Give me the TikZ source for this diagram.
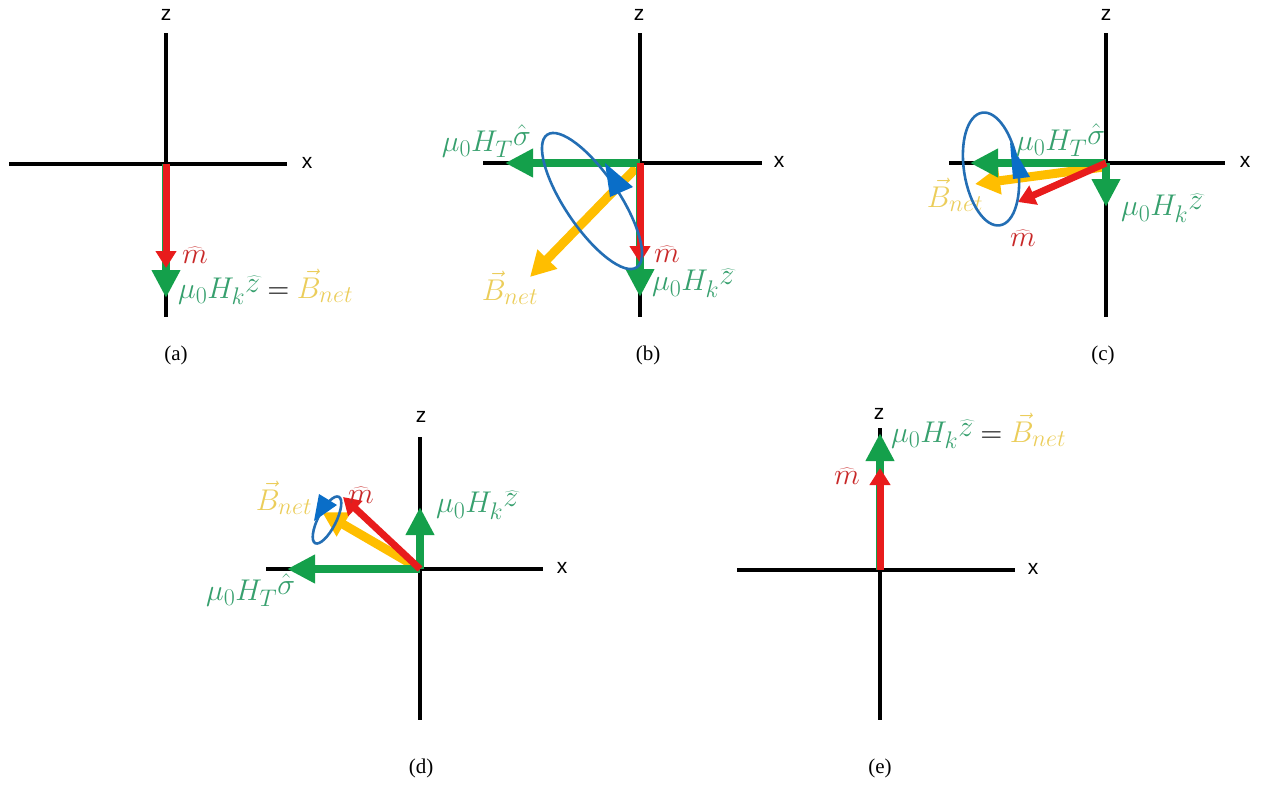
\RequirePackage{fix-cm}
\documentclass[tikz,border=0pt]{standalone}
\usepackage{fontspec}
\setmainfont{Liberation Serif}
\newfontfamily\axisfont{Liberation Sans}
\usetikzlibrary{arrows.meta}
\DeclareMathSizes{30}{30}{24}{18}
\definecolor{ared}{RGB}{232,28,28}
\definecolor{agreen}{RGB}{20,160,75}
\definecolor{ayellow}{RGB}{255,190,0}
\definecolor{ablue}{RGB}{35,110,180}
\definecolor{ablue2}{RGB}{10,110,200}
\definecolor{tgreen}{RGB}{55,160,110}
\definecolor{tred}{RGB}{200,40,40}
\definecolor{tyellow}{RGB}{235,205,90}
\tikzset{
  axisline/.style={line width=3.5pt, black},
  axislbl/.style={font=\axisfont\fontsize{21}{25}\selectfont, inner sep=0pt},
  caption/.style={font=\fontsize{21}{25}\selectfont, inner sep=0pt},
  lbl/.style={font=\fontsize{30}{34}\selectfont, inner sep=0pt},
  redarr/.style={line width=7pt, ared, -{Triangle[length=17pt,width=20pt]}},
  greenarr/.style={line width=8pt, agreen, -{Triangle[length=28pt,width=27pt]}},
  yelarr/.style={line width=9pt, ayellow, -{Triangle[length=25pt,width=26pt]}},
  ell/.style={line width=2.6pt, ablue},
  bhead/.style={fill=ablue2, draw=none},
}
\newcommand{\MuHk}{\ensuremath{\mu_0H_k\raisebox{6pt}{$\widehat{z}$}}}
\newcommand{\MuHT}{\ensuremath{\mu_0H_T\raisebox{6pt}{$\hat{\sigma}$}}}
\newcommand{\Bnet}{\ensuremath{\vec{B}_{net}}}
\newcommand{\mhat}{\ensuremath{\widehat{m}}}
\begin{document}
\begin{tikzpicture}[x=1pt,y=-1pt]
\useasboundingbox (0,0) rectangle (1263,788);
% ---------------- (a)
\coordinate (Oa) at (166,164);
\coordinate (aT) at (166,33); \coordinate (aB) at (166,317);
\coordinate (aL) at (9,164); \coordinate (aR) at (287,164);
\draw[axisline] (aT) -- (aB);
\draw[axisline] (aL) -- (aR);
\node[axislbl] (za) at (166,15) {z};
\node[axislbl] (xa) at (307,163) {x};
\coordinate (aG) at (166,298);
\coordinate (aM) at (166,268);
\draw[greenarr] (Oa) -- (aG);
\draw[redarr] (Oa) -- (aM);
\node[lbl, text=tred] (ma) at (195,255) {\mhat};
\node[lbl, anchor=west] (ha) at (178,287) {\textcolor{tgreen}{\MuHk} $=$ \textcolor{tyellow}{\Bnet}};
\node[caption] (ca) at (176,355) {(a)};
% ---------------- (b)
\coordinate (Ob) at (640,163);
\coordinate (bT) at (640,33); \coordinate (bB) at (640,317);
\coordinate (bL) at (483,163); \coordinate (bR) at (762,163);
\draw[axisline] (bT) -- (bB);
\draw[axisline] (bL) -- (bR);
\node[axislbl] (zb) at (639,15) {z};
\node[axislbl] (xb) at (779,162) {x};
\coordinate (bY0) at (636,168); \coordinate (bY) at (530,277);
\coordinate (bGl) at (505,163); \coordinate (bGd) at (640,297);
\coordinate (bM) at (640,263);
\draw[yelarr] (bY0) -- (bY);
\draw[greenarr] (Ob) -- (bGl);
\draw[greenarr] (Ob) -- (bGd);
\draw[redarr] (Ob) -- (bM);
\coordinate (bE) at (592,201);
\draw[ell, rotate around={-56:(bE)}] (bE) ellipse [x radius=80, y radius=27];
\fill[bhead] (605,163) -- (633,187) -- (610,197) -- cycle;
\node[lbl, text=tgreen, anchor=east] (hTb) at (531,141) {\MuHT};
\node[lbl, text=tred] (mb) at (667,254) {\mhat};
\node[lbl, text=tgreen, anchor=west] (hkb) at (652,283) {\MuHk};
\node[lbl, text=tyellow] (Bb) at (510,288) {\Bnet};
\node[caption] (cb) at (648,355) {(b)};
% ---------------- (c)
\coordinate (Oc) at (1106,163);
\coordinate (cT) at (1106,33); \coordinate (cB) at (1106,317);
\coordinate (cL) at (949,163); \coordinate (cR) at (1225,163);
\draw[axisline] (cT) -- (cB);
\draw[axisline] (cL) -- (cR);
\node[axislbl] (zc) at (1106,15) {z};
\node[axislbl] (xc) at (1245,162) {x};
\coordinate (cY0) at (1104,167); \coordinate (cY) at (975,184);
\coordinate (cGl) at (970,163); \coordinate (cGd) at (1106,207);
\coordinate (cM) at (1018,202);
\draw[yelarr] (cY0) -- (cY);
\draw[greenarr] (Oc) -- (cGl);
\draw[greenarr] (Oc) -- (cGd);
\draw[redarr] (Oc) -- (cM);
\node[lbl, text=tyellow] (Bc) at (955,195) {\Bnet};
\coordinate (cE) at (991,169);
\draw[ell, rotate around={-81:(cE)}] (cE) ellipse [x radius=57, y radius=27];
\fill[bhead] (1010,142) -- (1030,177) -- (1013,179) -- cycle;
\node[lbl, text=tgreen, anchor=west] (hTc) at (1016,140) {\MuHT};
\node[lbl, text=tred] (mc) at (1023,238) {\mhat};
\node[lbl, text=tgreen, anchor=west] (hkc) at (1121,208) {\MuHk};
\node[caption] (cc) at (1103,355) {(c)};
% ---------------- (d)
\coordinate (Od) at (420,569);
\coordinate (dT) at (420,437); \coordinate (dB) at (420,720);
\coordinate (dL) at (266,569); \coordinate (dR) at (543,569);
\draw[axisline] (dT) -- (dB);
\draw[axisline] (dL) -- (dR);
\node[axislbl] (zd) at (421,417) {z};
\node[axislbl] (xd) at (562,568) {x};
\coordinate (dY) at (322,512);
\coordinate (dGl) at (287,569); \coordinate (dGu) at (420,507);
\coordinate (dM) at (343,497);
\draw[yelarr] (Od) -- (dY);
\draw[greenarr] (Od) -- (dGl);
\draw[greenarr] (Od) -- (dGu);
\draw[redarr] (Od) -- (dM);
\coordinate (dE) at (327,520);
\draw[ell, rotate around={63:(dE)}] (dE) ellipse [x radius=26, y radius=9];
\fill[bhead] (319,494) -- (337,505) -- (314,521) -- cycle;
\node[lbl, text=tyellow] (Bd) at (284,498) {\Bnet};
\node[lbl, text=tred] (md) at (361,495) {\mhat};
\node[lbl, text=tgreen, anchor=west] (hkd) at (436,505) {\MuHk};
\node[lbl, text=tgreen, anchor=west] (hTd) at (206,590) {\MuHT};
\node[caption] (cd) at (421,768) {(d)};
% ---------------- (e)
\coordinate (Oe) at (880,570);
\coordinate (eT) at (880,428); \coordinate (eB) at (880,720);
\coordinate (eL) at (737,570); \coordinate (eR) at (1015,570);
\draw[axisline] (eT) -- (eB);
\draw[axisline] (eL) -- (eR);
\node[axislbl] (ze) at (879,414) {z};
\node[axislbl] (xe) at (1033,569) {x};
\coordinate (eG) at (880,433); \coordinate (eM) at (880,468);
\draw[greenarr] (Oe) -- (eG);
\draw[redarr] (Oe) -- (eM);
\node[lbl, text=tred] (me) at (847,476) {\mhat};
\node[lbl, anchor=west] (he) at (891,431) {\textcolor{tgreen}{\MuHk} $=$ \textcolor{tyellow}{\Bnet}};
\node[caption] (ce) at (880,768) {(e)};
\end{tikzpicture}
\end{document}
